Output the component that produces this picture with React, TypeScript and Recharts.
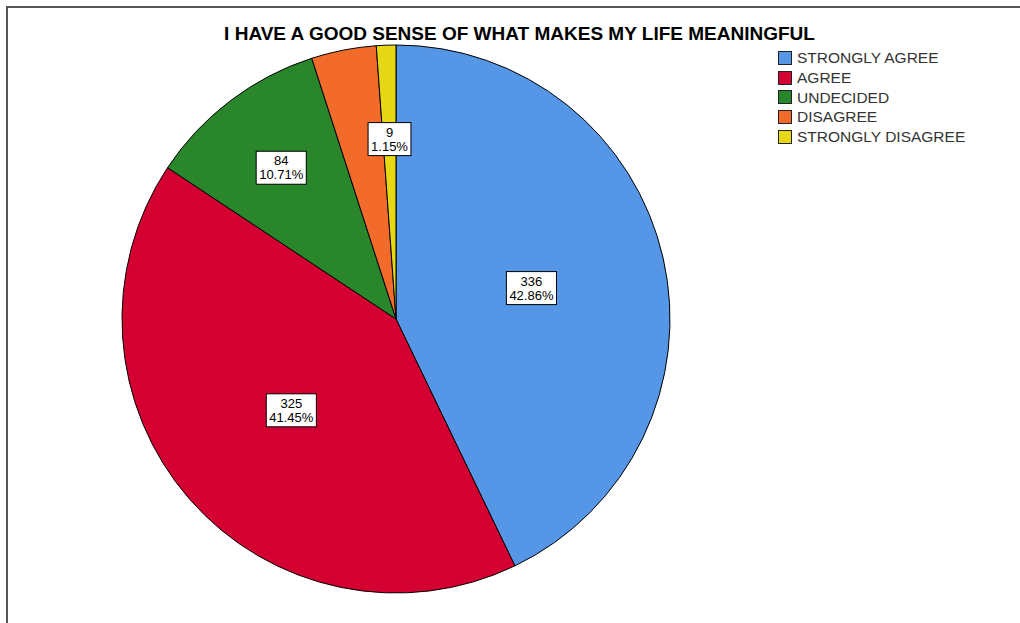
import React from "react";
import { PieChart, Pie, Cell } from "recharts";

const categories = ["STRONGLY AGREE", "AGREE", "UNDECIDED", "DISAGREE", "STRONGLY DISAGREE"];
const counts = [336, 325, 84, 30, 9];
const colors = ["#5596E6", "#D50032", "#2A862A", "#F26B2B", "#E6D814"];
const title = "I HAVE A GOOD SENSE OF WHAT MAKES MY LIFE MEANINGFUL";

const data = categories.map((name, i) => ({ name, value: counts[i] }));

const RAD = Math.PI / 180;
const CX = 396;
const CY = 319;
const R = 274;
// label radius fraction per slice (null = no label)
const labelFrac: (number | null)[] = [0.507, 0.507, 0.693, null, 0.657];
const FONT = "Liberation Sans, Arial, sans-serif";

const charW = (ch: string) => (ch === "." ? 0.278 : ch === "%" ? 0.889 : 0.556);
const textW = (s: string, fs: number) => s.split("").reduce((a, c) => a + charW(c) * fs, 0);

const renderLabel = (props: any) => {
  const { cx, cy, midAngle, outerRadius, index, value, percent } = props;
  const f = labelFrac[index];
  if (f == null) return null;
  const r = outerRadius * f;
  const x = cx + r * Math.cos(-midAngle * RAD);
  const y = cy + r * Math.sin(-midAngle * RAD);
  const line1 = String(value);
  const line2 = (percent * 100).toFixed(2) + "%";
  const w = Math.max(textW(line1, 13), textW(line2, 13)) + 6;
  const h = 33;
  return (
    <g key={"lbl" + index}>
      <rect x={x - w / 2} y={y - h / 2} width={w} height={h} fill="#fff" stroke="#000" strokeWidth={1} />
      <text x={x} y={y - 7} textAnchor="middle" dominantBaseline="central" fontFamily={FONT} fontSize={13} fill="#000">
        {line1}
      </text>
      <text x={x} y={y + 7} textAnchor="middle" dominantBaseline="central" fontFamily={FONT} fontSize={13} fill="#000">
        {line2}
      </text>
    </g>
  );
};

export default function App() {
  return (
    <div style={{ position: "absolute", left: 0, top: 0, width: 1020, height: 623, overflow: "hidden", background: "#fff" }}>
      <div style={{ position: "absolute", left: 6, top: 6, width: 1100, height: 700, borderLeft: "2px solid #555", borderTop: "2px solid #555" }} />
      <div
        style={{
          position: "absolute",
          left: 0,
          width: 1039,
          top: 23,
          textAlign: "center",
          fontFamily: FONT,
          fontWeight: "bold",
          fontSize: 19,
          lineHeight: "normal",
          color: "#000",
          whiteSpace: "nowrap",
        }}
      >
        {title}
      </div>
      <div style={{ position: "absolute", left: 0, top: 0 }}>
        <PieChart width={1020} height={623} margin={{ top: 0, right: 0, bottom: 0, left: 0 }}>
          <Pie
            data={data}
            dataKey="value"
            nameKey="name"
            cx={CX}
            cy={CY}
            outerRadius={R}
            startAngle={90}
            endAngle={-270}
            stroke="#000"
            strokeWidth={1}
            label={renderLabel}
            labelLine={false}
            isAnimationActive={false}
          >
            {data.map((d, i) => (
              <Cell key={d.name} fill={colors[i]} />
            ))}
          </Pie>
        </PieChart>
      </div>
      <div style={{ position: "absolute", left: 778, top: 48, fontFamily: FONT, fontSize: 15.5, color: "#333" }}>
        {categories.map((c, i) => (
          <div key={c} style={{ display: "flex", alignItems: "center", height: 19.7 }}>
            <div style={{ width: 12, height: 12, background: colors[i], border: "1px solid #222", marginRight: 5, flexShrink: 0 }} />
            <span style={{ lineHeight: "17px", whiteSpace: "nowrap" }}>{c}</span>
          </div>
        ))}
      </div>
    </div>
  );
}
